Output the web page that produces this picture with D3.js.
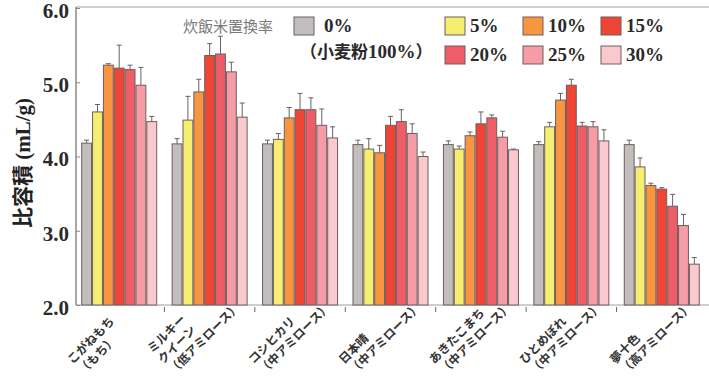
<!DOCTYPE html>
<html>
<head>
<meta charset="utf-8">
<script src="https://cdn.jsdelivr.net/npm/d3@7"></script>
<style>
  html, body { margin: 0; padding: 0; background: #fff; }
  svg { display: block; }
</style>
</head>
<body>
<svg id="chart" width="709" height="382"></svg>
<script>
// Rice varieties (x groups) and their label lines
const varieties = ["こがねもち", "ミルキークイーン", "コシヒカリ", "日本晴", "あきたこまち", "ひとめぼれ", "夢十色"];
const varietyLabels = [
  ["こがねもち", "（もち）"],
  ["ミルキー", "クイーン", "（低アミロース）"],
  ["コシヒカリ", "（中アミロース）"],
  ["日本晴", "（中アミロース）"],
  ["あきたこまち", "（中アミロース）"],
  ["ひとめぼれ", "（中アミロース）"],
  ["夢十色", "（高アミロース）"]
];

// Replacement rates of cooked rice
const rates = ["0%", "5%", "10%", "15%", "20%", "25%", "30%"];
const rateColors = ["#c2bebe", "#f5ee70", "#f79540", "#ee4535", "#ee5d68", "#f59ca6", "#f9c9cd"];

// Specific volume (mL/g), one array per replacement rate, in variety order
const vol0  = [4.18, 4.17, 4.17, 4.16, 4.16, 4.16, 4.16];
const vol5  = [4.60, 4.49, 4.23, 4.10, 4.10, 4.40, 3.86];
const vol10 = [5.23, 4.87, 4.52, 4.05, 4.28, 4.76, 3.61];
const vol15 = [5.19, 5.36, 4.63, 4.42, 4.44, 4.96, 3.56];
const vol20 = [5.17, 5.38, 4.63, 4.47, 4.52, 4.41, 3.33];
const vol25 = [4.96, 5.14, 4.42, 4.31, 4.26, 4.40, 3.07];
const vol30 = [4.47, 4.53, 4.25, 4.00, 4.09, 4.21, 2.55];

// Standard deviations (upper error bars)
const sd0  = [0.04, 0.07, 0.05, 0.06, 0.05, 0.04, 0.06];
const sd5  = [0.10, 0.32, 0.08, 0.14, 0.04, 0.06, 0.12];
const sd10 = [0.02, 0.17, 0.14, 0.10, 0.05, 0.09, 0.03];
const sd15 = [0.31, 0.16, 0.22, 0.12, 0.16, 0.08, 0.02];
const sd20 = [0.06, 0.24, 0.16, 0.16, 0.04, 0.05, 0.16];
const sd25 = [0.24, 0.13, 0.22, 0.13, 0.08, 0.07, 0.15];
const sd30 = [0.07, 0.19, 0.15, 0.06, 0.01, 0.15, 0.09];

const yTicks = [2.0, 3.0, 4.0, 5.0, 6.0];

const volumes = [vol0, vol5, vol10, vol15, vol20, vol25, vol30];
const sds = [sd0, sd5, sd10, sd15, sd20, sd25, sd30];

const svg = d3.select("#chart");
const plotLeft = 76, plotRight = 709, plotTop = 8, plotBottom = 305;

const x0 = d3.scaleBand().domain(varieties).range([74, 707]).padding(0);
const x1 = d3.scaleBand().domain(rates).range([7.2, 83.2]).padding(0);
const y = d3.scaleLinear().domain([2, 6]).range([plotBottom, plotTop]);
const color = d3.scaleOrdinal().domain(rates).range(rateColors);

// Frame: top rule and baseline
svg.append("line").attr("x1", plotLeft).attr("x2", plotRight).attr("y1", plotTop - 1).attr("y2", plotTop - 1)
  .attr("stroke", "#cfcfcf").attr("stroke-width", 2);
svg.append("line").attr("x1", plotLeft).attr("x2", plotRight).attr("y1", plotBottom).attr("y2", plotBottom)
  .attr("stroke", "#cfcfcf").attr("stroke-width", 2);

// Bars
const rows = [];
varieties.forEach((v, gi) => {
  rates.forEach((r, si) => {
    rows.push({ variety: v, rate: r, value: volumes[si][gi], sd: sds[si][gi] });
  });
});

const bars = svg.append("g");
bars.selectAll("rect").data(rows).join("rect")
  .attr("x", d => x0(d.variety) + x1(d.rate) + 0.5)
  .attr("width", x1.bandwidth() - 1)
  .attr("y", d => y(d.value))
  .attr("height", d => y(2) - y(d.value))
  .attr("fill", d => color(d.rate))
  .attr("stroke", "#6e5e5e")
  .attr("stroke-width", 1);

// Error bars (upper)
const err = svg.append("g").attr("stroke", "#6a6060").attr("stroke-width", 1);
rows.forEach(d => {
  const cx = x0(d.variety) + x1(d.rate) + x1.bandwidth() / 2;
  err.append("line").attr("x1", cx).attr("x2", cx).attr("y1", y(d.value)).attr("y2", y(d.value + d.sd));
  err.append("line").attr("x1", cx - 2.5).attr("x2", cx + 2.5).attr("y1", y(d.value + d.sd)).attr("y2", y(d.value + d.sd));
});

// Y axis
const yAxis = svg.append("g").attr("transform", `translate(${plotLeft},0)`)
  .call(d3.axisLeft(y).tickValues(yTicks).tickFormat(d3.format(".1f")).tickSize(-4).tickPadding(7));
yAxis.select(".domain").attr("stroke", "#8a8a8a").attr("stroke-width", 1.5).attr("d", `M0,${plotTop - 1}V${plotBottom}`);
yAxis.selectAll(".tick line").attr("stroke", "#8a8a8a");
yAxis.selectAll(".tick text")
  .attr("font-family", "'Liberation Serif', serif").attr("font-weight", "bold")
  .attr("font-size", 21).attr("fill", "#2a2a2a").attr("dy", "0.45em");

// X axis ticks between groups
const boundaries = varieties.slice(1).map(v => x0(v));
svg.append("g").selectAll("line").data(boundaries).join("line")
  .attr("x1", d => d).attr("x2", d => d).attr("y1", plotBottom + 2).attr("y2", plotBottom + 7)
  .attr("stroke", "#666").attr("stroke-width", 1);

// Variety labels (rotated 45°, lines start-aligned, last line anchored near the bottom)
const lineStep = 15, diag = Math.SQRT1_2;
varieties.forEach((v, gi) => {
  const cx = x0(v) + x0.bandwidth() / 2;
  const n = varietyLabels[gi].length;
  const sx = cx - 36 - (n - 1) * lineStep * diag;
  const sy = 375 - (n - 1) * lineStep * diag;
  const t = svg.append("text")
    .attr("transform", `translate(${sx},${sy}) rotate(-45)`)
    .attr("font-family", "'Noto Sans CJK JP', sans-serif")
    .attr("font-weight", "bold").attr("font-size", 12).attr("fill", "#333")
    .attr("text-anchor", "start");
  varietyLabels[gi].forEach((line, li) => {
    t.append("tspan").attr("x", 0).attr("dy", li === 0 ? 0 : lineStep).text(line);
  });
});

// Y axis title
svg.append("text")
  .attr("transform", "translate(30,163) rotate(-90)")
  .attr("text-anchor", "middle")
  .attr("font-weight", "bold").attr("font-size", 21).attr("fill", "#222")
  .call(t => {
    t.append("tspan").attr("font-family", "'Noto Sans CJK JP', sans-serif").text("比容積");
    t.append("tspan").attr("font-family", "'Liberation Serif', serif").text(" (mL/g)");
  });

// Legend
const legend = svg.append("g");
legend.append("text").attr("x", 183).attr("y", 32)
  .attr("font-family", "'Noto Sans CJK JP', sans-serif").attr("font-size", 15)
  .attr("fill", "#7a7a7a").text("炊飯米置換率");

const legendPos = [
  { x: 294, y: 17 }, { x: 445, y: 17 }, { x: 523, y: 17 }, { x: 601, y: 17 },
  { x: 445, y: 46 }, { x: 523, y: 46 }, { x: 601, y: 46 }
];
rates.forEach((r, i) => {
  const p = legendPos[i];
  legend.append("rect").attr("x", p.x).attr("y", p.y).attr("width", 20).attr("height", 18)
    .attr("fill", color(r)).attr("stroke", "#6e5e5e").attr("stroke-width", 1);
  legend.append("text").attr("x", p.x + (i === 0 ? 30 : 25)).attr("y", p.y + 15)
    .attr("font-family", "'Liberation Serif', serif").attr("font-weight", "bold")
    .attr("font-size", 19).attr("fill", "#2a2a2a").text(r);
});
legend.append("text").attr("x", 300).attr("y", 58)
  .attr("font-weight", "bold").attr("font-size", 17).attr("fill", "#2a2a2a")
  .call(t => {
    t.append("tspan").attr("font-family", "'Noto Sans CJK JP', sans-serif").text("（小麦粉");
    t.append("tspan").attr("font-family", "'Liberation Serif', serif").attr("font-size", 19).text("100%");
    t.append("tspan").attr("font-family", "'Noto Sans CJK JP', sans-serif").text("）");
  });
</script>
</body>
</html>
